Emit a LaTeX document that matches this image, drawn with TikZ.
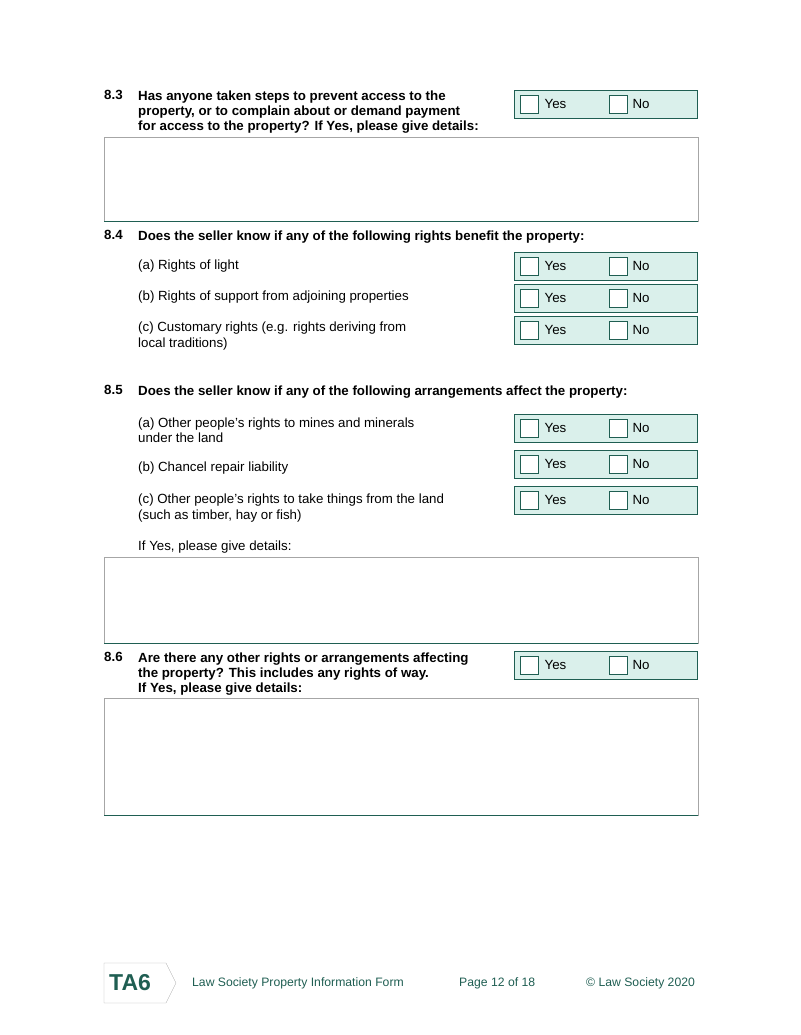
\documentclass[tikz,border=0pt]{standalone}
\usepackage{fontspec}
\setmainfont{Liberation Sans}
\usetikzlibrary{positioning}
\definecolor{formteal}{HTML}{1F5E52}
\definecolor{formfill}{HTML}{DAF0EB}
\newcommand{\yesno}[2]{% name, top y
  \node[yn, anchor=north west] (#1) at (514,-#2) {};
  \node[tick, anchor=west] (#1y) at ([xshift=6pt]#1.west) {};
  \node[txt, right=6pt of #1y] {Yes};
  \node[tick, anchor=west] (#1n) at ([xshift=95pt]#1.west) {};
  \node[txt, right=5pt of #1n] {No};}
\begin{document}
\begin{tikzpicture}[x=1pt, y=1pt,
  txt/.style={inner sep=0pt, anchor=west, font=\fontsize{13.3}{15.5}\selectfont, align=left},
  qtxt/.style={txt, font=\fontsize{13.3}{14.8}\selectfont\bfseries, anchor=north west},
  yn/.style={draw=formteal, fill=formfill, minimum width=183pt, minimum height=28pt, inner sep=0pt},
  tick/.style={draw=formteal, fill=white, minimum size=18pt, inner sep=0pt},
  answer/.style={draw=gray!70, minimum width=594pt, inner sep=0pt, anchor=north west}
]
\useasboundingbox (0,0) rectangle (800,-1035);

% 8.3
\node[qtxt] (q83n) at (104,-90) {8.3};
\node[qtxt] (q83) at (138,-91) {Has anyone taken steps to prevent access to the\\property, or to complain about or demand payment\\for access to the property? If Yes, please give details:};
\yesno{b83}{90}
\node[answer, minimum height=84pt] (a83) at (104,-137) {};
\draw[formteal, thick] (a83.south west) -- (a83.south east);

% 8.4
\node[qtxt] (q84n) at (104,-230) {8.4};
\node[qtxt] (q84) at (138,-231) {Does the seller know if any of the following rights benefit the property:};
\node[txt] (r84a) at (138,-266) {(a) Rights of light};
\yesno{b84a}{252}
\node[txt] (r84b) at (138,-297) {(b) Rights of support from adjoining properties};
\yesno{b84b}{284}
\node[txt] (r84c) at (138,-336) {(c) Customary rights (e.g. rights deriving from\\local traditions)};
\yesno{b84c}{316}

% 8.5
\node[qtxt] (q85n) at (104,-385) {8.5};
\node[qtxt] (q85) at (138,-386) {Does the seller know if any of the following arrangements affect the property:};
\node[txt] (r85a) at (138,-430) {(a) Other people’s rights to mines and minerals\\under the land};
\yesno{b85a}{414}
\node[txt] (r85b) at (138,-468) {(b) Chancel repair liability};
\yesno{b85b}{450}
\node[txt] (r85c) at (138,-508) {(c) Other people’s rights to take things from the land\\(such as timber, hay or fish)};
\yesno{b85c}{486}
\node[txt] (r85d) at (138,-547) {If Yes, please give details:};
\node[answer, minimum height=86pt] (a85) at (104,-557) {};
\draw[formteal, thick] (a85.south west) -- (a85.south east);

% 8.6
\node[qtxt] (q86n) at (104,-652) {8.6};
\node[qtxt] (q86) at (138,-653) {Are there any other rights or arrangements affecting\\the property? This includes any rights of way.\\If Yes, please give details:};
\yesno{b86}{651}
\node[answer, minimum height=117pt] (a86) at (104,-698) {};
\draw[formteal, thick] (a86.south west) -- (a86.south east);

% footer
\draw[gray!60, fill=white] (104,-963) -- (166,-963) -- (176,-983) -- (166,-1003) -- (104,-1003) -- cycle;
\node[txt, font=\fontsize{23}{25}\selectfont\bfseries, text=formteal] (ta6) at (109,-983) {TA6};
\node[txt, text=formteal, font=\fontsize{12.2}{14}\selectfont] (ft1) at (192,-983) {Law Society Property Information Form};
\node[txt, text=formteal, font=\fontsize{12.2}{14}\selectfont] (ft2) at (459,-983) {Page 12 of 18};
\node[txt, text=formteal, font=\fontsize{12.2}{14}\selectfont] (ft3) at (586,-983) {© Law Society 2020};
\end{tikzpicture}
\end{document}
